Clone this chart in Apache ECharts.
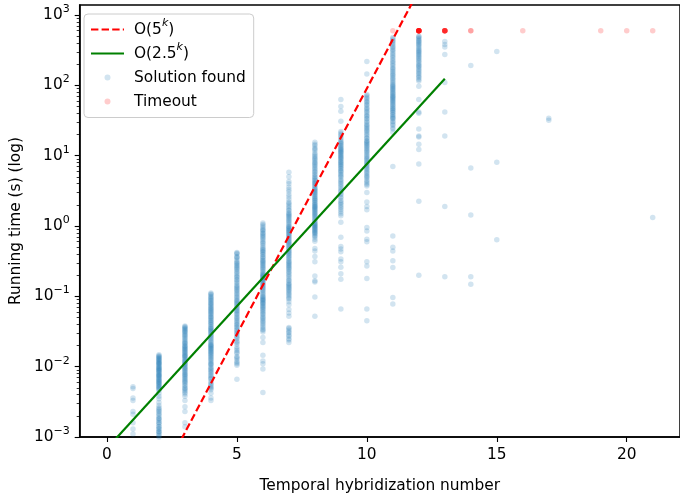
<!DOCTYPE html>
<html><head><meta charset="utf-8">
<script src="https://cdn.jsdelivr.net/npm/echarts@6/dist/echarts.min.js"></script>
<style>html,body{margin:0;padding:0;background:#fff}#c{width:680px;height:498px}</style>
</head><body><div id="c"></div>
<script>
const FONT = 'DejaVu Sans';
const xTicks = [0, 5, 10, 15, 20];
const yMajorTicks = [1e-3, 1e-2, 1e-1, 1, 10, 100, 1000];

// Running times (s) of solved instances, per temporal hybridization number k
const solved_k1 = [0.0052, 0.0049, 0.0036, 0.0033, 0.0023, 0.0021, 0.0016, 0.0013, 0.0011];
const solved_k2 = [0.0148, 0.014, 0.0133, 0.0127, 0.012, 0.0115, 0.011, 0.0104, 0.0098, 0.0094, 0.009, 0.0086, 0.0081, 0.0077, 0.0074, 0.007, 0.0066, 0.0063, 0.006, 0.0057, 0.0054, 0.0051, 0.0049, 0.0046, 0.0042, 0.0038, 0.0035, 0.0031, 0.0028, 0.0026, 0.0024, 0.0022, 0.0021, 0.0019, 0.0018, 0.0017, 0.0016, 0.0015, 0.0014, 0.0013, 0.0012, 0.00115, 0.0011, 0.00105, 0.001,
  0.0143, 0.0136, 0.013, 0.0123, 0.0117, 0.0112, 0.0107, 0.0101, 0.0096, 0.0092, 0.0088, 0.0083, 0.0079, 0.0075, 0.0072, 0.0068, 0.0064, 0.0061, 0.0058, 0.0055, 0.0052, 0.0048, 0.0025, 0.0023, 0.002, 0.0018, 0.0016, 0.0014, 0.0013, 0.0012];
const solved_k3 = [0.038, 0.036, 0.034, 0.032, 0.030, 0.028, 0.027, 0.025, 0.024, 0.022, 0.021, 0.02, 0.019, 0.018, 0.017, 0.016, 0.015, 0.0145, 0.014, 0.013, 0.012, 0.0115, 0.011, 0.0105, 0.01, 0.0094, 0.0088, 0.0082, 0.0077, 0.0072, 0.0067, 0.0062, 0.0058, 0.0053, 0.0049, 0.0045, 0.0041, 0.0038, 0.0033, 0.0027, 0.0023, 0.0016, 0.0014,
  0.037, 0.035, 0.033, 0.031, 0.029, 0.026, 0.023, 0.0215, 0.0195, 0.0185, 0.0175, 0.0165, 0.0155, 0.0142, 0.0135, 0.0125, 0.0118, 0.0108, 0.0097, 0.0091, 0.0085, 0.0079, 0.0074, 0.0069, 0.0064, 0.006, 0.0055, 0.005, 0.0047, 0.0043];
const solved_k4 = [0.112, 0.105, 0.1, 0.094, 0.088, 0.082, 0.077, 0.072, 0.067, 0.063, 0.059, 0.055, 0.051, 0.048, 0.045, 0.042, 0.039, 0.036, 0.034, 0.032, 0.03, 0.028, 0.026, 0.024, 0.022, 0.021, 0.02, 0.019, 0.018, 0.017, 0.016, 0.015, 0.014, 0.013, 0.012, 0.011, 0.0105, 0.0098, 0.0091, 0.0084, 0.0077, 0.0071, 0.0066, 0.0061, 0.0056, 0.0051, 0.0047, 0.0042, 0.0036, 0.0033,
  0.108, 0.097, 0.091, 0.085, 0.079, 0.074, 0.069, 0.065, 0.061, 0.057, 0.053, 0.05, 0.046, 0.043, 0.04, 0.037, 0.035, 0.033, 0.031, 0.029, 0.027, 0.025, 0.023, 0.0205, 0.0195, 0.0185, 0.0175, 0.0165, 0.0155, 0.0145, 0.0135, 0.0125, 0.0115, 0.0108, 0.0095, 0.0088, 0.0081, 0.0074, 0.0068, 0.0058, 0.0053, 0.0049];
const solved_k5 = [0.42, 0.4, 0.37, 0.35, 0.33, 0.3, 0.28, 0.26, 0.24, 0.22, 0.2, 0.185, 0.17, 0.155, 0.14, 0.13, 0.12, 0.11, 0.1, 0.092, 0.085, 0.079, 0.073, 0.067, 0.062, 0.057, 0.052, 0.048, 0.044, 0.04, 0.037, 0.034, 0.031, 0.029, 0.027, 0.025, 0.023, 0.021, 0.019, 0.017, 0.0155, 0.014, 0.013, 0.012, 0.011, 0.0105, 0.0066,
  0.41, 0.36, 0.31, 0.29, 0.27, 0.25, 0.23, 0.21, 0.19, 0.175, 0.16, 0.145, 0.135, 0.125, 0.115, 0.105, 0.096, 0.088, 0.082, 0.076, 0.07, 0.064, 0.06, 0.055, 0.05, 0.046, 0.042, 0.039, 0.036, 0.033, 0.03, 0.026, 0.022, 0.018, 0.016, 0.0135, 0.0115];
const solved_k6 = [1.1, 1.0, 0.95, 0.88, 0.8, 0.75, 0.7, 0.64, 0.58, 0.53, 0.48, 0.45, 0.42, 0.39, 0.36, 0.33, 0.31, 0.29, 0.27, 0.25, 0.23, 0.21, 0.2, 0.19, 0.18, 0.17, 0.16, 0.15, 0.14, 0.13, 0.12, 0.11, 0.1, 0.095, 0.09, 0.085, 0.08, 0.075, 0.07, 0.065, 0.06, 0.055, 0.05, 0.046, 0.042, 0.038, 0.034, 0.031, 0.026, 0.022, 0.0145, 0.012, 0.011, 0.0093, 0.0043,
  1.05, 0.9, 0.85, 0.78, 0.72, 0.67, 0.61, 0.56, 0.5, 0.46, 0.43, 0.4, 0.37, 0.345, 0.32, 0.3, 0.28, 0.26, 0.24, 0.22, 0.205, 0.195, 0.185, 0.175, 0.165, 0.155, 0.145, 0.135, 0.125, 0.115, 0.105, 0.098, 0.092, 0.087, 0.082, 0.078, 0.072, 0.067, 0.062, 0.057, 0.052, 0.048, 0.044, 0.04, 0.036, 0.033];
const solved_k7 = [5.8, 5.0, 4.3, 3.6, 3.1, 2.6, 2.2, 2.0, 1.8, 1.65, 1.5, 1.4, 1.3, 1.2, 1.1, 1.0, 0.95, 0.9, 0.85, 0.8, 0.75, 0.7, 0.65, 0.6, 0.56, 0.52, 0.48, 0.44, 0.41, 0.38, 0.35, 0.32, 0.3, 0.28, 0.26, 0.24, 0.22, 0.2, 0.18, 0.165, 0.15, 0.14, 0.13, 0.12, 0.11, 0.1, 0.092, 0.084, 0.076, 0.065, 0.058, 0.052, 0.036, 0.033, 0.03, 0.027, 0.024, 0.022,
  4.0, 3.3, 2.8, 2.4, 2.1, 1.9, 1.7, 1.55, 1.45, 1.35, 1.25, 1.15, 1.05, 0.98, 0.92, 0.87, 0.82, 0.77, 0.72, 0.67, 0.62, 0.58, 0.54, 0.5, 0.46, 0.43, 0.4, 0.37, 0.34, 0.31, 0.29, 0.27, 0.25, 0.23, 0.21, 0.19, 0.17, 0.155, 0.145, 0.135, 0.125, 0.115, 0.105, 0.095, 0.035, 0.031, 0.028, 0.025];
const solved_k8 = [15.5, 14, 13, 12, 11, 10, 9.2, 8.5, 7.8, 7.2, 6.6, 6.0, 5.5, 5.0, 4.7, 4.4, 4.1, 3.8, 3.5, 3.3, 3.1, 2.9, 2.7, 2.5, 2.35, 2.2, 2.05, 1.9, 1.8, 1.7, 1.6, 1.5, 1.4, 1.3, 1.2, 1.1, 1.05, 1.0, 0.95, 0.9, 0.85, 0.8, 0.75, 0.7, 0.65, 0.61, 0.48, 0.44, 0.37, 0.31, 0.195, 0.166, 0.16, 0.098, 0.052,
  14.5, 12.5, 10.5, 9.6, 8.8, 8.1, 7.5, 6.9, 6.3, 5.8, 5.3, 4.9, 4.5, 4.2, 4.0, 3.7, 3.4, 3.2, 3.0, 2.8, 2.6, 2.45, 2.3, 2.15, 2.0, 1.95, 1.85, 1.75, 1.65, 1.55, 1.45, 1.35, 1.25, 1.15, 1.08, 1.02, 0.97, 0.92, 0.87, 0.82, 0.78, 0.72];
const solved_k9 = [63, 50, 43, 31, 22, 20, 18, 16, 15, 14, 13, 12.3, 11.6, 11, 10.3, 9.7, 9.1, 8.5, 8, 7.5, 7, 6.5, 6, 5.5, 5.1, 4.6, 4.2, 3.8, 3.4, 3.1, 2.8, 2.5, 2.2, 2.0, 1.8, 1.6, 1.4, 1.13, 0.69, 0.51, 0.47, 0.43, 0.34, 0.31, 0.26, 0.21, 0.175, 0.066,
  21, 19, 17, 15.5, 14.5, 13.5, 12.7, 12, 11.3, 10.7, 10, 9.4, 8.8, 8.2, 7.7, 7.2, 6.7, 6.2, 5.8, 5.3, 4.9, 4.4, 4.0, 3.6, 3.2, 2.9, 2.6, 2.3, 2.1, 1.9, 1.7, 1.5];
const solved_k10 = [218, 145, 74, 68, 62, 57, 52, 47, 43, 39, 36, 33, 30, 27, 25, 23, 21, 19, 17.5, 16, 15, 14, 13, 12, 11, 10, 9.2, 8.5, 7.8, 7.2, 6.6, 6.0, 5.5, 5.0, 4.5, 4.1, 3.7, 3.0, 2.2, 1.9, 1.7, 0.95, 0.85, 0.65, 0.6, 0.31, 0.27, 0.18, 0.066, 0.045,
  71, 65, 59, 54, 49, 45, 41, 37, 34, 31, 28, 26, 24, 22, 20, 18, 16.5, 15.5, 14.5, 13.5, 12.5, 11.5, 10.5, 9.6, 8.8, 8.1, 7.5, 6.9, 6.3, 5.7, 5.2, 4.8, 4.3, 3.9];
const solved_k11 = [480, 440, 400, 360, 330, 300, 270, 245, 220, 200, 180, 165, 150, 138, 126, 115, 105, 98, 92, 86, 80, 75, 70, 66, 62, 58, 54, 50, 47, 44, 41, 38, 35, 33, 30, 27, 24, 21.5, 7, 0.72, 0.5, 0.44, 0.32, 0.257, 0.096, 0.078,
  460, 420, 380, 345, 315, 285, 258, 232, 210, 190, 172, 157, 144, 132, 120, 110, 101, 95, 89, 83, 77, 72, 68, 64, 60, 56, 52, 48, 45, 42, 39, 36, 34, 31, 28, 25];
const solved_k12 = [500, 470, 440, 410, 380, 350, 320, 300, 280, 260, 240, 220, 200, 185, 170, 155, 140, 128, 115, 97, 63, 42, 40, 24, 19, 18.5, 14.5, 12.3, 7.6, 2.25, 0.2,
  490, 455, 425, 395, 365, 335, 310, 290, 270, 250, 230, 210, 192, 178, 162, 148, 134, 121];
const solved_k13 = [420, 380, 350, 275, 110, 42, 19, 1.9, 0.19];
const solved_k14 = [192, 6.7, 1.44, 0.19, 0.149];
const solved_k15 = [304, 8.1, 0.64];
const solved_k17 = [34, 32];
const solved_k21 = [1.32];
const solvedK = [1, 2, 3, 4, 5, 6, 7, 8, 9, 10, 11, 12, 13, 14, 15, 17, 21];
const solvedTimes = [solved_k1, solved_k2, solved_k3, solved_k4, solved_k5, solved_k6, solved_k7, solved_k8, solved_k9, solved_k10, solved_k11, solved_k12, solved_k13, solved_k14, solved_k15, solved_k17, solved_k21];

// Timed-out instances (plotted at the time limit)
const timeoutK = [11, 12, 13, 14, 16, 19, 20, 21];
const timeoutCount = [1, 12, 8, 2, 1, 1, 1, 1];
const timeoutSeconds = 600;

// Reference growth lines
const line5k = [[0, 9.25e-6], [13, 1.13e4]];
const line25k = [[0, 6.9e-4], [13, 124]];

const minorTicks = [];
for (let e = -3; e <= 3; e++) for (let m = 2; m <= 9; m++) { const v = m * Math.pow(10, e); if (v < 1390) minorTicks.push(+v.toPrecision(3)); }

const solvedData = [];
solvedK.forEach((k, i) => solvedTimes[i].forEach(t => solvedData.push([k, t])));
const timeoutData = [];
timeoutK.forEach((k, i) => { for (let j = 0; j < timeoutCount[i]; j++) timeoutData.push([k, timeoutSeconds]); });

const supName = { 'O(5^k)': '{n|O(5}{s|k}{n|)}', 'O(2.5^k)': '{n|O(2.5}{s|k}{n|)}' };
const FS = 15.4;
const txt = { fontFamily: FONT, fontSize: FS, color: '#000' };

const chart = echarts.init(document.getElementById('c'), null, { renderer: 'canvas' });
chart.setOption({
  animation: false,
  backgroundColor: '#fff',
  grid: { left: 76, right: -6, top: 5, bottom: 60, show: true, borderColor: '#000', borderWidth: 1.5, backgroundColor: 'transparent' },
  legend: {
    orient: 'vertical', left: 84, top: 14,
    padding: [4, 8, 4.5, 6],
    itemWidth: 33, itemHeight: 6, itemGap: 1,
    backgroundColor: 'rgba(255,255,255,0.8)', borderColor: '#cccccc', borderWidth: 1, borderRadius: 4,
    selectedMode: false,
    formatter: n => supName[n] || ('{n|' + n + '}'),
    textStyle: {
      fontFamily: FONT, fontSize: FS, color: '#000', padding: [0, 0, 0, 5],
      backgroundColor: 'rgba(255,255,255,0)',
      rich: {
        n: { fontFamily: FONT, fontSize: FS, color: '#000', lineHeight: 23, verticalAlign: 'middle' },
        s: { fontFamily: FONT, fontSize: 11, fontStyle: 'italic', color: '#000', verticalAlign: 'top' }
      }
    },
    data: [
      { name: 'O(5^k)', itemStyle: { opacity: 0 } },
      { name: 'O(2.5^k)', itemStyle: { opacity: 0 } },
      { name: 'Solution found', icon: 'circle', itemStyle: { color: '#1f77b4', opacity: 0.2 } },
      { name: 'Timeout', icon: 'circle', itemStyle: { color: '#ff0000', opacity: 0.2 } }
    ]
  },
  xAxis: {
    type: 'value', min: -1.05, max: 22.05,
    axisLine: { show: true, onZero: false, lineStyle: { color: '#000', width: 1.5 } },
    splitLine: { show: false },
    axisTick: { show: true, length: 5, lineStyle: { color: '#000', width: 1.1 }, customValues: xTicks },
    axisLabel: { ...txt, margin: 10, customValues: xTicks },
    name: 'Temporal hybridization number', nameLocation: 'middle', nameGap: 41,
    nameTextStyle: { ...txt }
  },
  yAxis: [{
    type: 'log', logBase: 10, min: 0.001, max: 1390,
    axisLine: { show: true, onZero: false, lineStyle: { color: '#000', width: 1.5 } },
    splitLine: { show: false },
    axisTick: { show: true, length: 5, lineStyle: { color: '#000', width: 1.1 }, customValues: yMajorTicks },
    axisLabel: {
      margin: 10, customValues: yMajorTicks,
      formatter: v => { const e = Math.round(Math.log10(v)); return '{b|10}{e|' + (e < 0 ? '\u2212' + (-e) : e) + '}'; },
      rich: {
        b: { fontFamily: FONT, fontSize: FS, color: '#000', lineHeight: 23, verticalAlign: 'middle' },
        e: { fontFamily: FONT, fontSize: 11, color: '#000', verticalAlign: 'top' }
      }
    },
    name: 'Running time (s) (log)', nameLocation: 'middle', nameGap: 53,
    nameTextStyle: { ...txt }
  }, {
    type: 'log', logBase: 10, min: 0.001, max: 1390, position: 'left',
    axisLine: { show: false, onZero: false }, splitLine: { show: false }, axisLabel: { show: false },
    axisTick: { show: true, length: 3, lineStyle: { color: '#000', width: 0.8 }, customValues: minorTicks }
  }],
  series: [
    {
      name: 'Solution found', type: 'scatter', data: solvedData, symbol: 'circle', symbolSize: 5.5,
      itemStyle: { color: '#1f77b4', opacity: 0.2 }, silent: true, z: 2, large: false
    },
    {
      name: 'Timeout', type: 'scatter', data: timeoutData, symbol: 'circle', symbolSize: 5.5,
      itemStyle: { color: '#ff0000', opacity: 0.2 }, silent: true, z: 2
    },
    {
      name: 'O(5^k)', type: 'line', data: line5k, showSymbol: false, symbol: 'none', clip: true,
      lineStyle: { color: '#ff0000', width: 2.2, type: [7.4, 3.2] }, itemStyle: { color: '#ff0000' }, silent: true, z: 3
    },
    {
      name: 'O(2.5^k)', type: 'line', data: line25k, showSymbol: false, symbol: 'none', clip: true,
      lineStyle: { color: '#008000', width: 2.2 }, itemStyle: { color: '#008000' }, silent: true, z: 3
    }
  ]
});
</script></body></html>
